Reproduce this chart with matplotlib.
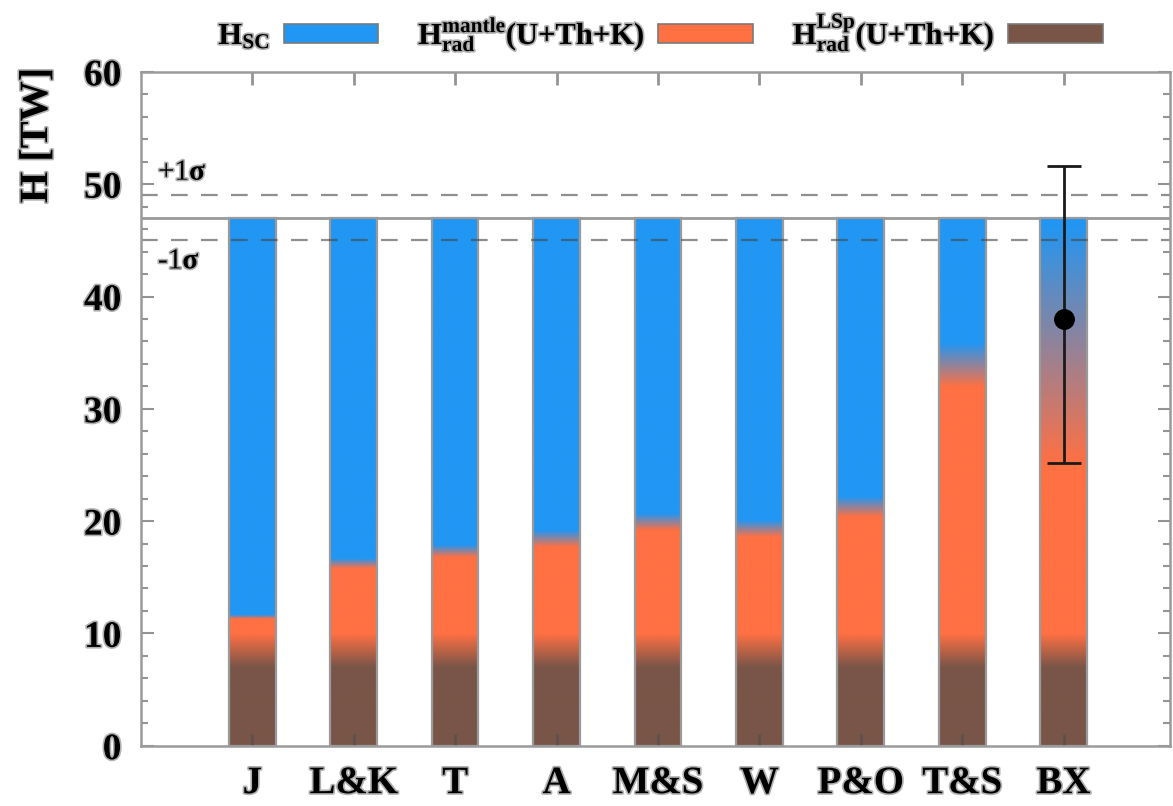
import numpy as np
import matplotlib
matplotlib.use('Agg')
import matplotlib.pyplot as plt
from matplotlib.patches import Patch, Rectangle
from matplotlib.ticker import MultipleLocator
import matplotlib.patheffects as pe

plt.rcParams['font.family'] = ['Liberation Serif', 'DejaVu Serif']
plt.rcParams['mathtext.fontset'] = 'custom'
plt.rcParams['mathtext.rm'] = 'Liberation Serif:bold'
plt.rcParams['mathtext.bf'] = 'Liberation Serif:bold'
plt.rcParams['mathtext.it'] = 'Liberation Serif:bold'

# Earth models and heat budget [TW]
models = ['J', 'L&K', 'T', 'A', 'M&S', 'W', 'P&O', 'T&S', 'BX']
h_total = 47.0
h_sigma = 2.0
# lithosphere (LSp) radiogenic heat: lower/upper edge of the brown->orange band
lsp_low = 7.0
lsp_high = 10.0
# mantle radiogenic heat: lower/upper edge of the orange->blue band
mantle_low = [11.3, 15.8, 16.8, 17.7, 19.2, 18.6, 20.4, 32.0, 25.2]
mantle_high = [11.7, 16.7, 17.9, 19.2, 20.7, 20.1, 22.2, 35.9, 46.5]
# BX measurement with asymmetric error
bx_value = 38.0
bx_err_up = 13.6
bx_err_down = 12.8

blue = np.array([0x21, 0x96, 0xF3]) / 255
orange = np.array([0xFF, 0x70, 0x43]) / 255
brown = np.array([0x79, 0x55, 0x48]) / 255

halo = [pe.withStroke(linewidth=2.4, foreground='#b0b0b0')]


def column_colors(y, lo1, hi1, lo2, hi2):
    t1 = np.clip((y - lo1) / (hi1 - lo1), 0, 1)[:, None]
    t2 = np.clip((y - lo2) / (hi2 - lo2), 0, 1)[:, None]
    c = brown * (1 - t1) + orange * t1
    c = c * (1 - t2) + blue * t2
    return c


fig = plt.figure(figsize=(11.73, 8.06), dpi=100)
ax = fig.add_axes([0.120, 0.0748, 0.8775, 0.836])

xpos = np.arange(1, len(models) + 1)
width = 0.46
y = np.linspace(0, h_total, 800)

for x, lo, hi in zip(xpos, mantle_low, mantle_high):
    col = column_colors(y, lsp_low, lsp_high, lo, hi)[:, None, :]
    ax.imshow(col, extent=[x - width / 2, x + width / 2, 0, h_total],
              origin='lower', aspect='auto', interpolation='bilinear', zorder=1)
    ax.add_patch(Rectangle((x - width / 2, 0), width, h_total, fill=False,
                           edgecolor='#9a9a9a', lw=1.6, zorder=1.5))

# total heat flow and its 1 sigma band
ax.axhline(h_total, color='#999999', lw=2, zorder=0.5)
dash_col = (0.27, 0.27, 0.27, 0.6)
for yy in (h_total + h_sigma, h_total - h_sigma):
    ax.axhline(yy, color=dash_col, lw=1.6, dashes=(7.5, 6), zorder=2)

ax.text(0.07, 51.0, r'+1$\sigma$', fontsize=21, va='center', ha='left',
        path_effects=halo)
ax.text(0.07, 43.1, r'-1$\sigma$', fontsize=21, va='center', ha='left',
        path_effects=halo)

# BX measurement
ax.errorbar(xpos[-1], bx_value, yerr=[[bx_err_down], [bx_err_up]], fmt='o',
            color='black', ecolor='#1a1a1a', elinewidth=2, capsize=12,
            capthick=2, markersize=14, zorder=3)

ax.set_xlim(-0.1, 10.05)
ax.set_ylim(0, 60)
ax.set_xticks(xpos)
ax.set_xticklabels(models)
ax.set_yticks(np.arange(0, 61, 10))
ax.yaxis.set_minor_locator(MultipleLocator(2))

tick_col = (0.3, 0.3, 0.3, 0.6)
ax.tick_params(axis='y', which='major', direction='in', length=9, width=1.5,
               color=tick_col, left=True, right=True, labelsize=27, pad=14)
ax.tick_params(axis='y', which='minor', direction='in', length=5, width=1.5,
               color=tick_col, left=True, right=True)
ax.tick_params(axis='x', which='major', direction='in', length=9, width=2,
               color=tick_col, top=True, bottom=True, labelsize=28, pad=14)
for lab in ax.get_xticklabels() + ax.get_yticklabels():
    lab.set_fontweight('bold')
    lab.set_path_effects(halo)

for sp in ax.spines.values():
    sp.set_color('#9a9a9a')
    sp.set_linewidth(1.8)

fig.text(0.032, 0.832, 'H [TW]', rotation=90, ha='center', va='center',
         fontsize=29, fontweight='bold', path_effects=halo)

handles = [Patch(facecolor=blue, edgecolor='#7a7a7a', lw=1.2),
           Patch(facecolor=orange, edgecolor='#7a7a7a', lw=1.2),
           Patch(facecolor=brown, edgecolor='#7a7a7a', lw=1.2)]
labels = [r'$\mathbf{H_{SC}}$',
          r'$\mathbf{H^{mantle}_{rad}}$(U+Th+K)',
          r'$\mathbf{H^{LSp}_{rad}}$(U+Th+K)']
leg = ax.legend(handles, labels, loc='lower center', bbox_to_anchor=(0.505, 1.018),
                ncol=3, frameon=False, markerfirst=False, handlelength=3.1,
                handleheight=0.55, handletextpad=0.45, columnspacing=1.3,
                borderaxespad=0.0, borderpad=0.2,
                prop={'size': 22, 'weight': 'bold'})
for t in leg.get_texts():
    t.set_path_effects(halo)

fig.savefig('out.png', dpi=100)
